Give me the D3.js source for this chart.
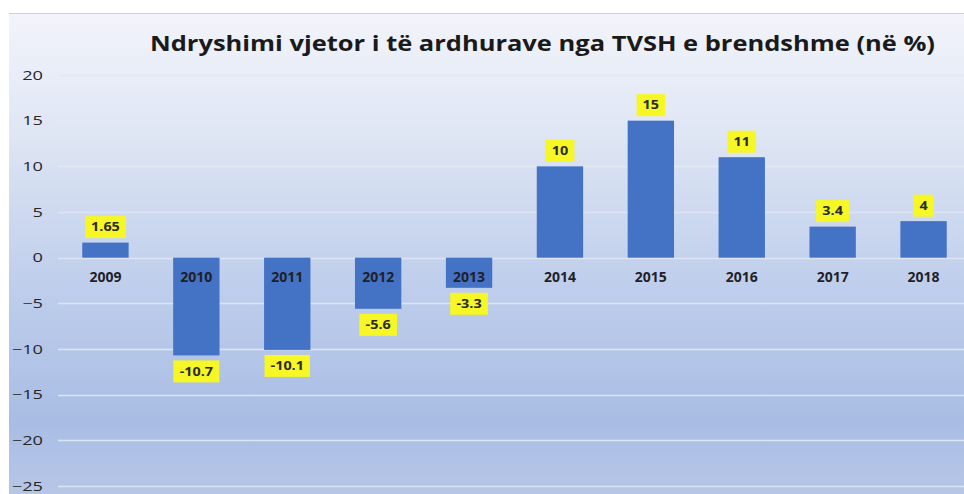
<!DOCTYPE html>
<html>
<head>
<meta charset="utf-8">
<script src="https://cdn.jsdelivr.net/npm/d3@7"></script>
<style>
  body { margin: 0; background: #fff; }
  text { font-family: "Open Sans", "Noto Sans", sans-serif; }
</style>
</head>
<body>
<div id="chart"></div>
<script>
/* Annual change of domestic VAT revenue */

const years = ["2009", "2010", "2011", "2012", "2013", "2014", "2015", "2016", "2017", "2018"];
const changes = [1.65, -10.7, -10.1, -5.6, -3.3, 10, 15, 11, 3.4, 4];
const labels = ["1.65", "-10.7", "-10.1", "-5.6", "-3.3", "10", "15", "11", "3.4", "4"];
const yTicks = [20, 15, 10, 5, 0, -5, -10, -15, -20, -25];

const data = years.map((y, i) => ({year: y, value: changes[i], label: labels[i]}));

const height = 494,
      width = 964,
      margin = ({top: 75, right: -5, bottom: 8, left: 60});

let svg = d3.select("#chart")
            .append("svg")
            .attr("width", width)
            .attr("height", height)
            .attr("viewBox", [0, 0, width, height]);

// background gradient
const grad = svg.append("defs")
    .append("linearGradient")
    .attr("id", "bg")
    .attr("x1", 0).attr("y1", 0).attr("x2", 0).attr("y2", 1);
grad.append("stop").attr("offset", "0%").attr("stop-color", "#f2f4fa");
grad.append("stop").attr("offset", "25%").attr("stop-color", "#dfe6f4");
grad.append("stop").attr("offset", "55%").attr("stop-color", "#c0cfec");
grad.append("stop").attr("offset", "85%").attr("stop-color", "#a9bde4");
grad.append("stop").attr("offset", "100%").attr("stop-color", "#b6c6e7");

svg.append("rect")
    .attr("x", 9).attr("y", 13)
    .attr("width", width - 9).attr("height", height - 13)
    .attr("fill", "url(#bg)");

svg.append("line")
    .attr("x1", 9).attr("x2", width)
    .attr("y1", 13.5).attr("y2", 13.5)
    .attr("stroke", "#cfd2d8");

const x = d3.scaleBand()
            .domain(years)
            .range([margin.left, width - margin.right])
            .paddingInner(0.49)
            .paddingOuter(0.245);

const y = d3.scaleLinear()
            .domain([-25, 20])
            .range([height - margin.bottom, margin.top]);

// gridlines
svg.append("g")
    .selectAll("line")
    .data(yTicks)
    .join("line")
    .attr("x1", 58)
    .attr("x2", width)
    .attr("y1", d => Math.round(y(d)) + 0.5)
    .attr("y2", d => Math.round(y(d)) + 0.5)
    .attr("stroke", d => y(d) < 200 ? "#e3e8f3" : "#dde5f5")
    .attr("stroke-width", 1.5);

// y labels (the source picture is stretched sideways, so scale the text)
const yAxis = g => g
        .attr("transform", `translate(43,0)`)
        .call(d3.axisLeft(y).tickValues(yTicks).tickSize(0).tickPadding(0))
        .call(g => g.select(".domain").remove())
        .call(g => g.selectAll("text")
            .attr("x", 0)
            .attr("transform", "scale(1.4,1)")
            .attr("fill", "#262626")
            .style("font-size", "13px")
            .style("font-family", "'Open Sans', sans-serif"));

svg.append("g")
    .call(yAxis);

let bar = svg.selectAll(".bar")
    .data(data)
    .join("g")
    .attr("class", "bar");

bar.append("rect")
    .attr("fill", "#4472c4")
    .attr("x", d => x(d.year))
    .attr("width", x.bandwidth())
    .attr("y", d => y(Math.max(0, d.value)))
    .attr("height", d => Math.abs(y(0) - y(d.value)));

// category labels just below the zero line
svg.append("g")
    .selectAll("text")
    .data(years)
    .join("text")
    .text(d => d)
    .attr("x", d => x(d) + x.bandwidth() / 2)
    .attr("y", y(0) + 24)
    .attr("text-anchor", "middle")
    .style("font-size", "14px")
    .style("font-weight", "bold")
    .style("fill", "#1f1f2a");

// value labels in yellow boxes
const lab = bar.append("g")
    .attr("transform", d => {
        const cx = x(d.year) + x.bandwidth() / 2;
        const cy = d.value >= 0 ? y(d.value) - 15.5 : y(d.value) + 16;
        return `translate(${cx},${cy})`;
    });

lab.append("text")
    .text(d => d.label)
    .attr("text-anchor", "middle")
    .attr("dy", "0.36em")
    .attr("transform", "scale(1.2,1)")
    .style("font-size", "12px")
    .style("font-weight", "bold")
    .style("fill", "#2a2a2a");

lab.each(function() {
    const g = d3.select(this);
    const bb = g.select("text").node().getBBox();
    const w = bb.width * 1.2;
    g.insert("rect", "text")
        .attr("x", -w / 2 - 6)
        .attr("y", -11)
        .attr("width", w + 12)
        .attr("height", 22)
        .attr("fill", "#f6f724");
});

svg.append("text")
    .text("Ndryshimi vjetor i të ardhurave nga TVSH e brendshme (në %)")
    .attr("x", 150)
    .attr("y", 51)
    .attr("textLength", 785)
    .attr("lengthAdjust", "spacingAndGlyphs")
    .style("font-size", "21px")
    .style("font-weight", "bold")
    .style("fill", "#1a1a1a");
</script>
</body>
</html>
